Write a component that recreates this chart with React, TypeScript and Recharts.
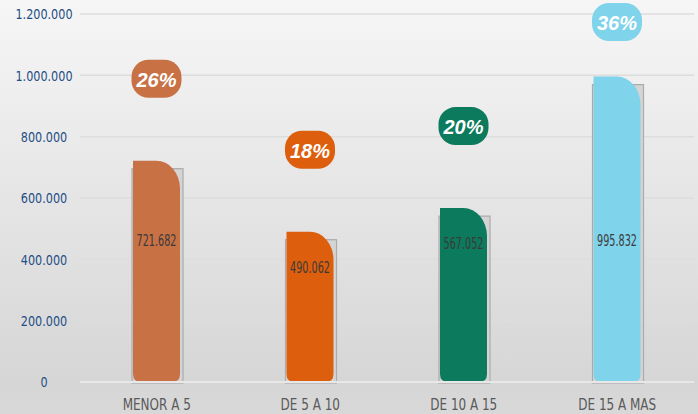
import { BarChart, Bar, XAxis, YAxis, CartesianGrid, LabelList } from 'recharts';

const categories = ['MENOR A 5', 'DE 5 A 10', 'DE 10 A 15', 'DE 15 A MAS'];
const totals = [721682, 490062, 567052, 995832];
const shares = ['26%', '18%', '20%', '36%'];
const yTicks = [0, 200000, 400000, 600000, 800000, 1000000, 1200000];

const COLOURS = ['#C87145', '#DD5E0C', '#0C7A5C', '#7FD3EA'];

const NARROW = '"DejaVu Sans Condensed", "Liberation Sans", sans-serif';

const data = categories.map((name, i) => ({ name, total: totals[i], share: shares[i] }));

const fmt = (v: number) => String(Math.round(v)).replace(/\B(?=(\d{3})+(?!\d))/g, '.');

// the original text is tall and narrow, so squeeze it horizontally
function Squeezed({ x, y, size, sx, fill, children }: any) {
  return (
    <text transform={`translate(${x},${y}) scale(${sx},1)`} x={0} y={0}
      textAnchor="middle" dominantBaseline="central"
      fontFamily={NARROW} fontSize={size} fill={fill}>
      {children}
    </text>
  );
}

function RoundBar(props: any) {
  const { x, y, width, height, index } = props;
  if (!height || height <= 0) return null;
  const fill = COLOURS[index];
  const bottom = y + height;
  const rx = Math.min(26, width / 2);
  const ry = Math.min(28, height / 2);
  const br = 8;
  const right = x + width;
  const d = [
    `M${x},${y}`,
    `L${right - rx},${y}`,
    `A${rx},${ry} 0 0 1 ${right},${y + ry}`,
    `L${right},${bottom - br}`,
    `Q${right},${bottom} ${right - br},${bottom}`,
    `L${x + br},${bottom}`,
    `Q${x},${bottom} ${x},${bottom - br}`,
    'Z',
  ].join(' ');
  return (
    <g>
      <rect x={x - 1} y={y + 8} width={width + 4} height={height - 7} fill="#d4d4d4" stroke="#ababab" strokeWidth={1.2} />
      <path d={d} fill={fill} />
    </g>
  );
}

function ValueLabel(props: any) {
  const { x, y, width, value } = props;
  const ty = Math.max(240, y + 35);
  return <Squeezed x={x + width / 2} y={ty} size={16} sx={0.67} fill="#3a3a3a">{fmt(value)}</Squeezed>;
}

function ShareBadge(props: any) {
  const { x, y, width, value, index } = props;
  const cx = x + width / 2;
  const cy = Math.max(y - 82, 22);
  return (
    <g>
      <rect x={cx - 25} y={cy - 19} width={50} height={38} rx={17} fill={COLOURS[index]} />
      <text x={cx} y={cy + 1} textAnchor="middle" dominantBaseline="central"
        fontFamily='"Liberation Sans", Arial, sans-serif' fontWeight="bold" fontStyle="italic"
        fontSize={20} fill="#ffffff">
        {value}
      </text>
    </g>
  );
}

function YTick(props: any) {
  const { y, payload } = props;
  return <Squeezed x={44} y={y} size={14.5} sx={0.86} fill="#1F4E85">{fmt(payload.value)}</Squeezed>;
}

function XTick(props: any) {
  const { x, y, payload } = props;
  return <Squeezed x={x} y={y + 15} size={15} sx={0.89} fill="#595959">{payload.value}</Squeezed>;
}

export default function App() {
  return (
    <div style={{ width: 698, height: 414, background: 'linear-gradient(to bottom, #f6f6f6 0%, #d6d6d6 92%, #d8d8d8 100%)' }}>
      <style>{'body{margin:0}'}</style>
      <BarChart width={698} height={414} data={data} margin={{ top: 14, right: 4, left: 0, bottom: 0 }} barSize={47}>
        <CartesianGrid vertical={false} stroke="#dddddd" strokeWidth={1.5} />
        <XAxis dataKey="name" tick={<XTick />} tickLine={false} axisLine={{ stroke: '#e8e8e8', strokeWidth: 2 }} height={32} interval={0} />
        <YAxis domain={[0, 1200000]} ticks={yTicks} tick={<YTick />} tickLine={false} axisLine={false} width={80} />
        <Bar dataKey="total" shape={<RoundBar />} isAnimationActive={false}>
          <LabelList dataKey="total" content={<ValueLabel />} />
          <LabelList dataKey="share" content={<ShareBadge />} />
        </Bar>
      </BarChart>
    </div>
  );
}
